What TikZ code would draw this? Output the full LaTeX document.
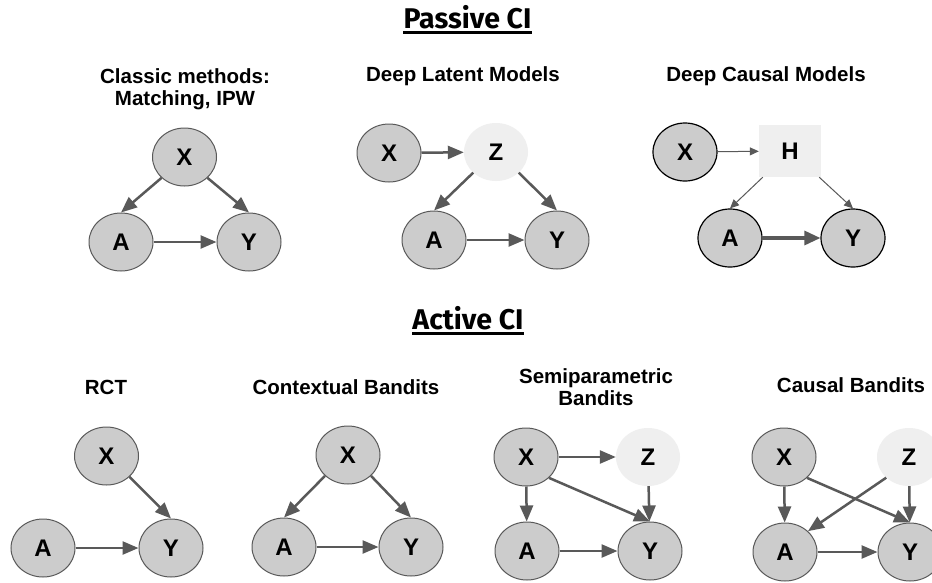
\documentclass[tikz,border=0pt]{standalone}
\usepackage{fontspec}
\setmainfont{Liberation Sans}
\newfontfamily\headfont{Fira Sans}
\usetikzlibrary{arrows.meta,shapes.geometric}
\definecolor{edgegray}{HTML}{595959}
\definecolor{nodegray}{HTML}{CCCCCC}
\definecolor{latent}{HTML}{EFEFEF}
\tikzset{
  var/.style={ellipse, draw=edgegray, line width=1pt, fill=nodegray,
    minimum width=64pt, minimum height=58pt, inner sep=0pt,
    font=\fontsize{24}{26}\selectfont\bfseries},
  varbk/.style={var, draw=black, line width=1.2pt},
  hidden/.style={ellipse, fill=latent, minimum width=64pt, minimum height=58pt,
    inner sep=0pt, font=\fontsize{24}{26}\selectfont\bfseries},
  hidbox/.style={rectangle, fill=latent, minimum width=62pt, minimum height=52pt,
    inner sep=0pt, font=\fontsize{24}{26}\selectfont\bfseries},
  edge/.style={draw=edgegray, line width=2.5pt,
    -{Triangle[length=16pt,width=13pt]}},
  thinedge/.style={draw=edgegray, line width=1pt,
    -{Triangle[length=9pt,width=8pt]}},
  thickedge/.style={draw=edgegray, line width=3.2pt,
    -{Triangle[length=16pt,width=14pt]}},
  caption/.style={align=center, font=\fontsize{20.5}{22}\selectfont\bfseries},
  heading/.style={anchor=base, inner sep=0pt,
    font=\headfont\fontsize{28.5}{30}\selectfont\bfseries},
  rule/.style={line width=2.6pt}
}
\begin{document}
\begin{tikzpicture}[x=1pt,y=-1pt]
\useasboundingbox (0,0) rectangle (932,582);
\clip (0,0) rectangle (932,582);
\fill[white] (0,0) rectangle (932,582);

% ---------- section headings ----------
\node[heading] (passive) at (467.5,28) {Passive CI};
\draw[rule] (passive.base west) ++(0,4.5) coordinate (pu1) -- (passive.base east |- pu1);
\node[heading] (active) at (468,329) {Active CI};
\draw[rule] (active.base west) ++(0,4.5) coordinate (au1) -- (active.base east |- au1);

% ---------- Classic methods ----------
\node[caption] (c1) at (185,89) {Classic methods:\\Matching, IPW};
\node[var] (x1) at (184.5,157) {X};
\node[var] (a1) at (121,242) {A};
\node[var] (y1) at (249,242) {Y};
\draw[edge] (x1.south west) -- (a1.north);
\draw[edge] (x1.south east) -- (y1.north);
\draw[edge] (a1) -- (y1);

% ---------- Deep Latent Models ----------
\node[caption] (c2) at (463,76) {Deep Latent Models};
\node[var] (x2) at (389,153) {X};
\node[hidden] (z2) at (496,152) {Z};
\node[var] (a2) at (434,240) {A};
\node[var] (y2) at (557,240) {Y};
\draw[edge] (x2) -- (z2);
\draw[edge] (z2.south west) -- (a2.north);
\draw[edge] (z2.south east) -- (y2.north);
\draw[edge] (a2) -- (y2);

% ---------- Deep Causal Models ----------
\node[caption] (c3) at (766,76) {Deep Causal Models};
\node[varbk] (x3) at (685,152) {X};
\node[hidbox] (h3) at (790,151) {H};
\node[varbk] (a3) at (730,238) {A};
\node[varbk] (y3) at (853,238) {Y};
\draw[thinedge] (x3) -- (h3);
\draw[thinedge] ([xshift=4pt]h3.south west) -- (a3.north);
\draw[thinedge] ([xshift=-2pt]h3.south east) -- (y3.north);
\draw[thickedge] (a3) -- (y3);

% ---------- RCT ----------
\node[caption] (c4) at (106,387) {RCT};
\node[var] (x4) at (106.5,456) {X};
\node[var] (a4) at (43,548) {A};
\node[var] (y4) at (171,548) {Y};
\draw[edge] (x4.south east) -- (y4.north);
\draw[edge] (a4) -- (y4);

% ---------- Contextual Bandits ----------
\node[caption] (c5) at (346,387) {Contextual Bandits};
\node[var] (x5) at (348,455) {X};
\node[var] (a5) at (284,547) {A};
\node[var] (y5) at (411,547) {Y};
\draw[edge] (x5.south west) -- (a5.north);
\draw[edge] (x5.south east) -- (y5.north);
\draw[edge] (a5) -- (y5);

% ---------- Semiparametric Bandits ----------
\node[caption] (c6) at (596,387) {Semiparametric\\Bandits};
\node[var] (x6) at (526,457) {X};
\node[hidden] (z6) at (648,457) {Z};
\node[var] (a6) at (527,551) {A};
\node[var] (y6) at (650,551) {Y};
\draw[edge] (x6) -- (z6);
\draw[edge] (x6) -- (a6);
\draw[edge] (z6) -- (y6);
\draw[edge] (x6.south east) -- (y6.north);
\draw[edge] (a6) -- (y6);

% ---------- Causal Bandits ----------
\node[caption] (c7) at (851,385) {Causal Bandits};
\node[var] (x7) at (784,457) {X};
\node[hidden] (z7) at (909,457) {Z};
\node[var] (a7) at (785,552) {A};
\node[var] (y7) at (910,552) {Y};
\draw[edge] (x7) -- (a7);
\draw[edge] (z7) -- (y7);
\draw[edge] (x7.south east) -- (y7.north);
\draw[edge] (z7.south west) -- (a7.north east);
\draw[edge] (a7) -- (y7);
\end{tikzpicture}
\end{document}
